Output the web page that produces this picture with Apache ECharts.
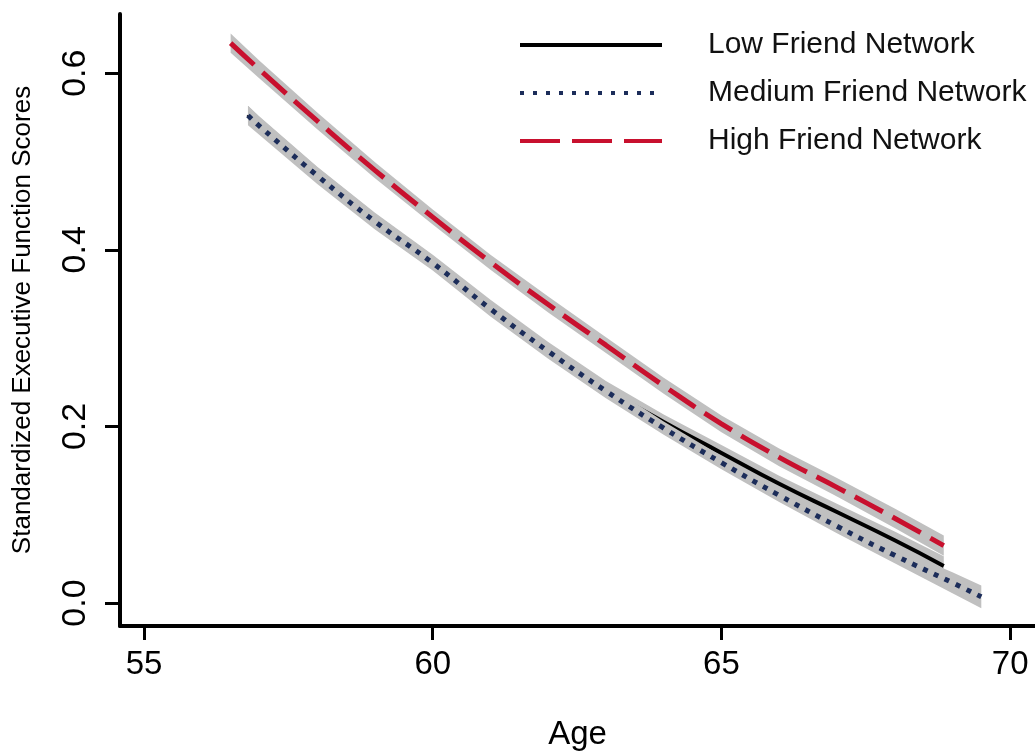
<!DOCTYPE html>
<html>
<head>
<meta charset="utf-8">
<title>Executive function by age</title>
<script src="https://cdn.jsdelivr.net/npm/echarts@6.0.0/dist/echarts.min.js"></script>
<style>
  html, body { margin: 0; padding: 0; background: #fff; }
  #main { width: 1035px; height: 751px; }
</style>
</head>
<body>
<div id="main"></div>
<script>
// 数据
var seriesNames = ['Low Friend Network', 'Medium Friend Network', 'High Friend Network'];

var lowAge = [56.8, 57, 58, 59, 60, 61, 62, 63, 64, 65, 66, 67, 68, 68.85];
var lowVal = [0.553, 0.541, 0.485, 0.433, 0.386, 0.335, 0.287, 0.243, 0.205, 0.170, 0.135, 0.103, 0.071, 0.042];
var lowCI = [0.010, 0.010, 0.009, 0.009, 0.0085, 0.0085, 0.0085, 0.0085, 0.0085, 0.009, 0.009, 0.0095, 0.010, 0.011];

var midAge = [56.8, 57, 58, 59, 60, 61, 62, 63, 64, 65, 66, 67, 68, 69, 69.5];
var midVal = [0.552, 0.540, 0.484, 0.432, 0.385, 0.333, 0.285, 0.240, 0.198, 0.159, 0.122, 0.087, 0.054, 0.023, 0.007];
var midCI = [0.011, 0.010, 0.0095, 0.009, 0.0085, 0.0085, 0.0085, 0.008, 0.0075, 0.0075, 0.0075, 0.008, 0.009, 0.012, 0.013];

var highAge = [56.5, 57, 58, 59, 60, 61, 62, 63, 64, 65, 66, 67, 68, 68.85];
var highVal = [0.634, 0.604, 0.546, 0.490, 0.437, 0.386, 0.338, 0.292, 0.246, 0.203, 0.165, 0.131, 0.096, 0.065];
var highCI = [0.011, 0.010, 0.0095, 0.009, 0.0085, 0.0085, 0.009, 0.009, 0.009, 0.0095, 0.010, 0.0105, 0.011, 0.0115];

var xTicks = [55, 60, 65, 70];
var yTicks = [0, 0.2, 0.4, 0.6];

var bandColor = '#c0c0c0';
var lowColor = '#000';
var midColor = '#1c2d5a';
var highColor = '#c8102e';

// 置信带：用 custom 系列画一个多边形，坐标经由 api.coord 换算
function band(key, ages, vals, ci, z) {
  var data = ages.map(function (a, i) { return [a, vals[i] - ci[i], vals[i] + ci[i]]; });
  return {
    type: 'custom',
    name: key + '_band',
    silent: true,
    clip: true,
    z: z,
    encode: { x: 0, y: [1, 2] },
    data: data,
    renderItem: function (params, api) {
      if (params.dataIndex !== 0) return null;
      var upper = data.map(function (d) { return api.coord([d[0], d[2]]); });
      var lower = data.map(function (d) { return api.coord([d[0], d[1]]); }).reverse();
      return {
        type: 'polygon',
        shape: { points: upper.concat(lower) },
        style: { fill: bandColor }
      };
    }
  };
}

function pairs(ages, vals) {
  return ages.map(function (a, i) { return [a, vals[i]]; });
}

var chart = echarts.init(document.getElementById('main'));

// 画的顺序：low 带 -> low 线 -> mid 带 -> mid 线 -> high 带 -> high 线
var series = [
  band('low', lowAge, lowVal, lowCI, 2),
  {
    type: 'line', name: seriesNames[0], data: pairs(lowAge, lowVal), z: 3,
    symbol: 'none', smooth: true,
    itemStyle: { color: lowColor },
    lineStyle: { color: lowColor, width: 4 }
  },
  band('mid', midAge, midVal, midCI, 4),
  {
    type: 'line', name: seriesNames[1], data: pairs(midAge, midVal), z: 5,
    symbol: 'none', smooth: true,
    itemStyle: { color: midColor },
    lineStyle: { color: midColor, width: 5, type: [5, 7], cap: 'butt' }
  },
  band('high', highAge, highVal, highCI, 6),
  {
    type: 'line', name: seriesNames[2], data: pairs(highAge, highVal), z: 7,
    symbol: 'none', smooth: true,
    itemStyle: { color: highColor },
    lineStyle: { color: highColor, width: 5, type: [32, 11], cap: 'butt' }
  }
];

var option = {
  animation: false,
  backgroundColor: '#fff',
  grid: { left: 120, right: 0, top: 14, bottom: 125, outerBoundsMode: 'none' },
  legend: {
    data: [
      { name: seriesNames[0], lineStyle: { color: lowColor, width: 4 } },
      { name: seriesNames[1], lineStyle: { color: midColor, width: 4, type: [4, 9] } },
      { name: seriesNames[2], lineStyle: { color: highColor, width: 4, type: [40, 12] } }
    ],
    orient: 'vertical',
    left: 518,
    top: 30,
    padding: 0,
    itemWidth: 142,
    itemHeight: 14,
    itemGap: 18,
    itemStyle: { opacity: 0 },
    textStyle: {
      fontFamily: 'Liberation Sans',
      fontSize: 30,
      lineHeight: 30,
      color: '#111',
      padding: [0, 0, 0, 41]
    }
  },
  xAxis: {
    type: 'value',
    min: 54.584,
    max: 70.43,
    name: 'Age',
    nameLocation: 'middle',
    nameGap: 92,
    nameTextStyle: { fontFamily: 'Liberation Sans', fontSize: 33, color: '#000' },
    axisLine: { onZero: false, lineStyle: { color: '#000', width: 4 } },
    axisTick: { customValues: xTicks, length: 14, lineStyle: { color: '#000', width: 3 } },
    axisLabel: {
      customValues: xTicks,
      margin: 22,
      fontFamily: 'Liberation Sans',
      fontSize: 33,
      color: '#000'
    },
    splitLine: { show: false }
  },
  yAxis: {
    type: 'value',
    min: -0.026,
    max: 0.667,
    name: 'Standardized Executive Function Scores',
    nameLocation: 'middle',
    nameGap: 84,
    nameTextStyle: { fontFamily: 'Liberation Sans', fontSize: 26, color: '#000' },
    axisLine: { show: true, onZero: false, lineStyle: { color: '#000', width: 4 } },
    axisTick: { show: true, customValues: yTicks, length: 15, lineStyle: { color: '#000', width: 3 } },
    axisLabel: {
      customValues: yTicks,
      rotate: 90,
      margin: 27,
      fontFamily: 'Liberation Sans',
      fontSize: 34,
      color: '#000',
      formatter: function (v) { return v.toFixed(1); }
    },
    splitLine: { show: false }
  },
  series: series
};

chart.setOption(option);
</script>
</body>
</html>
